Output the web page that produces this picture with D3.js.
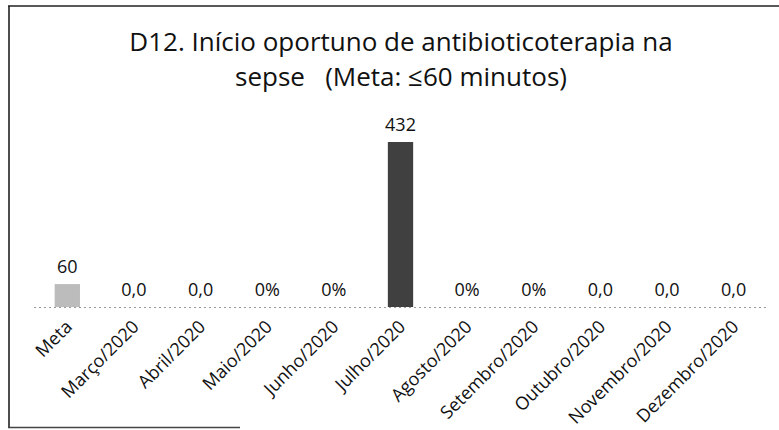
<!DOCTYPE html>
<html><head><meta charset="utf-8">
<script src="https://cdn.jsdelivr.net/npm/d3@7"></script>
<style>body{margin:0;background:#fff}svg{display:block}</style>
</head><body>
<script>
const categories = ["Meta","Março/2020","Abril/2020","Maio/2020","Junho/2020","Julho/2020","Agosto/2020","Setembro/2020","Outubro/2020","Novembro/2020","Dezembro/2020"];
const values = [60,0,0,0,0,432,0,0,0,0,0];
const labels = ["60","0,0","0,0","0%","0%","432","0%","0%","0,0","0,0","0,0"];
const titleLines = ["D12. Início oportuno de antibioticoterapia na","sepse   (Meta: ≤60 minutos)"];

const W=779,H=430;
const svg=d3.select("body").append("svg").attr("width",W).attr("height",H);
const font="'Open Sans', Lato, sans-serif";

// frame
const frame=svg.append("g").attr("stroke","#222").attr("fill","none");
frame.append("line").attr("x1",8).attr("x2",W).attr("y1",6).attr("y2",6).attr("stroke-width",1.6);
frame.append("line").attr("x1",9).attr("x2",9).attr("y1",6).attr("y2",428).attr("stroke-width",1.6);
frame.append("line").attr("x1",8).attr("x2",240).attr("y1",427.5).attr("y2",427.5).attr("stroke-width",1.4).attr("stroke","#444");

const x=d3.scaleBand().domain(categories).range([34,767]).paddingInner(0.62).paddingOuter(0.31);
const y=d3.scaleLinear().domain([0,432]).range([307,142]);

svg.append("g").selectAll("text").data(titleLines).join("text")
  .attr("x",401).attr("y",(d,i)=>51+i*35).attr("text-anchor","middle")
  .attr("font-family",font).attr("font-size",26).attr("fill","#111")
  .style("white-space","pre").text(d=>d);

svg.append("line").attr("x1",34).attr("x2",767).attr("y1",307.5).attr("y2",307.5)
  .attr("stroke","#999").attr("stroke-width",1).attr("stroke-dasharray","2,3");

const colors=categories.map((c,i)=> i===0?"#bcbcbc":"#404040");
svg.append("g").selectAll("rect").data(values).join("rect")
  .attr("x",(d,i)=>x(categories[i])).attr("width",x.bandwidth())
  .attr("y",d=>y(d)).attr("height",d=>y(0)-y(d))
  .attr("fill",(d,i)=>colors[i]);

svg.append("g").selectAll("text").data(values).join("text")
  .attr("x",(d,i)=>x(categories[i])+x.bandwidth()/2)
  .attr("y",d=>y(d)-11).attr("text-anchor","middle")
  .attr("font-family",font).attr("font-size",18).attr("fill","#111")
  .text((d,i)=>labels[i]);

const ax=svg.append("g").attr("transform","translate(0,307)")
  .call(d3.axisBottom(x).tickSize(0).tickPadding(0));
ax.select(".domain").remove();
ax.selectAll("text").attr("font-family",font).attr("font-size",18).attr("fill","#111")
  .attr("text-anchor","end").attr("dy",0)
  .attr("transform","translate(6,21) rotate(-45)");
</script>
</body></html>
